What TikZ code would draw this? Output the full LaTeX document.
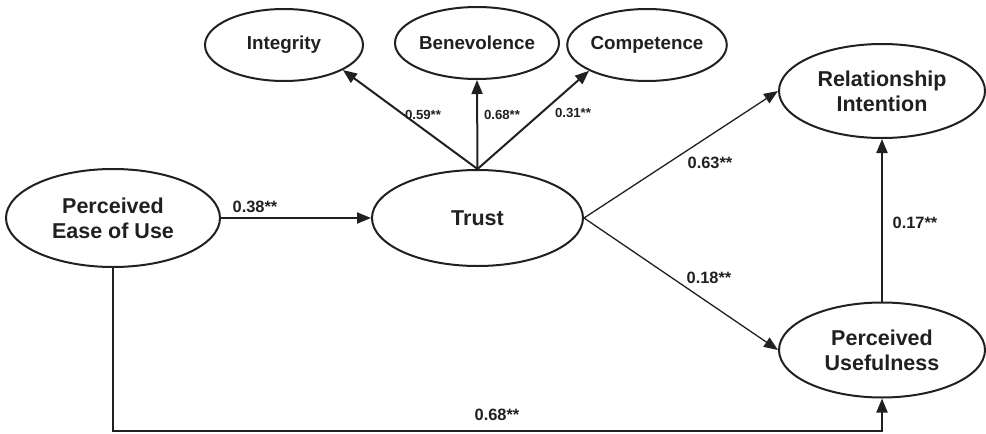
\documentclass[tikz,border=0pt]{standalone}
\usepackage{fontspec}
\setmainfont{Liberation Sans}
\usetikzlibrary{shapes.geometric,arrows.meta}
\definecolor{ink}{RGB}{35,31,32}
\tikzset{
  latent/.style={ellipse, draw=ink, line width=1pt, inner sep=0pt, text=ink, align=center,
     font=\bfseries\fontsize{10.75}{12.5}\selectfont},
  dim/.style={latent, font=\bfseries\fontsize{9.4}{11}\selectfont},
  path/.style={draw=ink, line width=1pt, -{Triangle[length=7pt,width=5.5pt]}},
  thinpath/.style={path, line width=0.65pt},
  coef/.style={text=ink, inner sep=0pt, font=\bfseries\fontsize{8.2}{9.5}\selectfont},
  smallcoef/.style={coef, font=\bfseries\fontsize{6.6}{8}\selectfont}
}
\begin{document}
\begin{tikzpicture}[x=0.5pt,y=-0.5pt]
\useasboundingbox (0,0) rectangle (986,434);
% nodes
\node[dim, minimum width=79pt, minimum height=36pt] (int) at (284,45) {Integrity};
\node[dim, minimum width=79pt, minimum height=36pt] (ben) at (477,43) {Benevolence};
\node[dim, minimum width=78pt, minimum height=36pt] (com) at (647,45) {Competence};
\node[latent, minimum width=105.5pt, minimum height=48pt] (trust) at (477.5,218) {Trust};
\node[latent, minimum width=107pt, minimum height=49pt] (peu) at (113,218) {Perceived\\Ease of Use};
\node[latent, minimum width=103pt, minimum height=47pt] (ri) at (882,91) {Relationship\\Intention};
\node[latent, minimum width=103pt, minimum height=47.5pt] (pu) at (882,350) {Perceived\\Usefulness};
% connectors
\draw[path] (trust.north) -- (int.-23);
\draw[path] (trust.north) -- (ben.south);
\draw[path] (trust.north) -- (com.204);
\draw[thinpath] (trust.east) -- (ri.west);
\draw[thinpath] (trust.east) -- (pu.west);
\draw[path] (peu.east) -- (trust.west);
\draw[path] (pu.north) -- (ri.south);
\coordinate (bl) at (113,431);
\coordinate (br) at (882,431);
\draw[path] (peu.south) -- (bl) -- (br) -- (pu.south);
% coefficients
\node[smallcoef] (c1) at (423,115) {0.59**};
\node[smallcoef] (c2) at (502,115) {0.68**};
\node[smallcoef] (c3) at (573,113) {0.31**};
\node[coef] (c4) at (710,163) {0.63**};
\node[coef] (c5) at (709,278) {0.18**};
\node[coef] (c6) at (915,223) {0.17**};
\node[coef] (c7) at (255,207) {0.38**};
\node[coef] (c8) at (497,415) {0.68**};
\end{tikzpicture}
\end{document}
